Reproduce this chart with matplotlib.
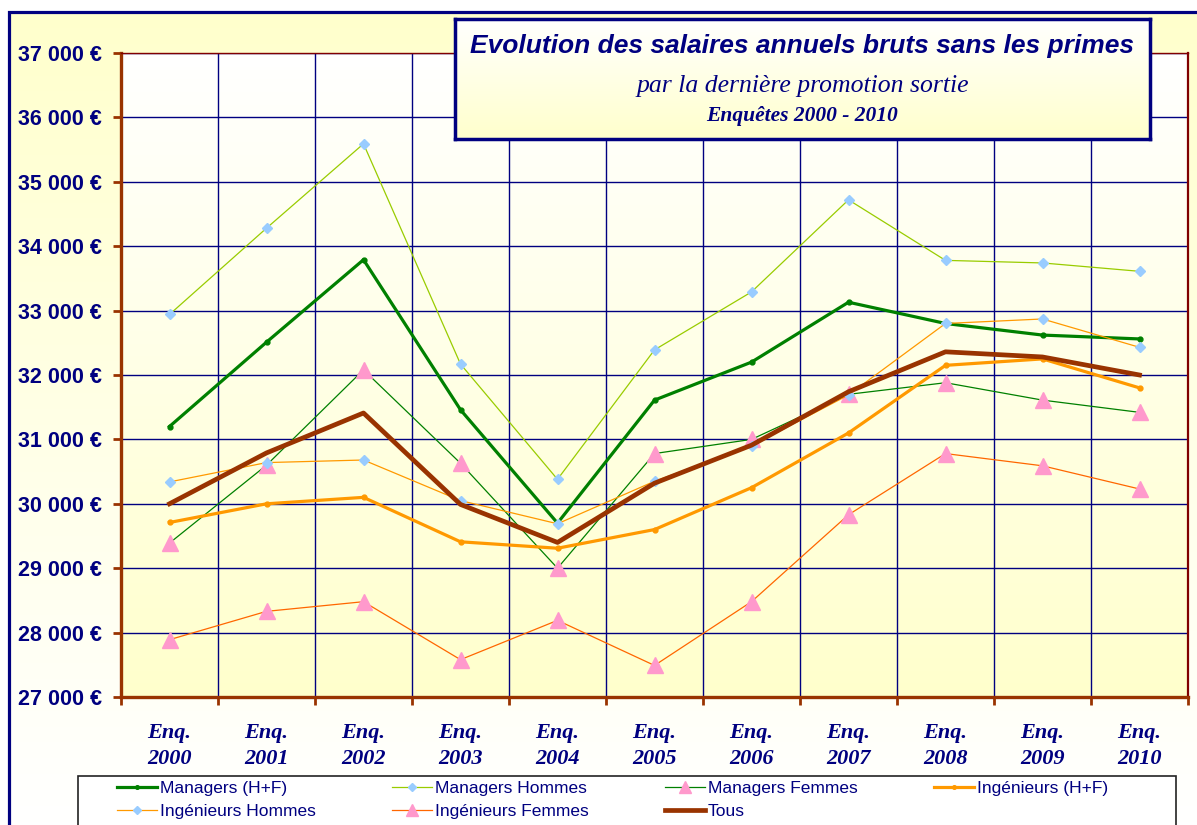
import numpy as np
import matplotlib
matplotlib.use("Agg")
import matplotlib.pyplot as plt
from matplotlib.patches import Rectangle
from matplotlib.colors import LinearSegmentedColormap

# survey years
years = ["2000", "2001", "2002", "2003", "2004", "2005",
         "2006", "2007", "2008", "2009", "2010"]

# salaries (EUR)
managers_hf = [31200, 32510, 33790, 31460, 29700, 31610, 32200, 33130, 32800, 32620, 32560]
managers_h = [32940, 34280, 35590, 32170, 30380, 32390, 33290, 34720, 33780, 33740, 33610]
managers_f = [29390, 30600, 32080, 30630, 29000, 30780, 31000, 31700, 31880, 31610, 31420]
ingenieurs_hf = [29710, 30000, 30100, 29410, 29310, 29600, 30250, 31100, 32150, 32250, 31800]
ingenieurs_h = [30340, 30640, 30680, 30050, 29690, 30350, 30900, 31690, 32800, 32870, 32430]
ingenieurs_f = [27890, 28330, 28480, 27580, 28190, 27490, 28480, 29830, 30780, 30590, 30230]
tous = [30000, 30790, 31410, 29990, 29400, 30320, 30910, 31740, 32360, 32280, 32000]

NAVY = "#000080"
BROWN = "#993300"
W, H = 1197, 825


def px(x, y, w, h):
    # pixel box (top-left origin) -> figure fraction
    return [x / W, 1 - (y + h) / H, w / W, h / H]


fig = plt.figure(figsize=(W / 100, H / 100), dpi=100)
fig.patch.set_facecolor("white")

grad = np.linspace(0, 1, 256).reshape(-1, 1)
cm_out = LinearSegmentedColormap.from_list("out", ["#FFFFCC", "#FFFFFF"])
cm_in = LinearSegmentedColormap.from_list("in", ["#FFFFFF", "#FFFFCC"])

# background with frame
bg = fig.add_axes([0, 0, 1, 1], zorder=-10)
bg.set_axis_off()
bg.imshow(grad, cmap=cm_out, aspect="auto", extent=[9 / W, 1, 0, 1 - 12 / H])
bg.set_xlim(0, 1)
bg.set_ylim(0, 1)
bg.add_patch(Rectangle((9 / W, -0.1), 1.1, 1 - 12 / H + 0.1, fill=False,
                       ec=NAVY, lw=2.3))
# legend box
bg.add_patch(Rectangle((78 / W, -0.1), (1176 - 78) / W, 1 - 776 / H + 0.1,
                       fc="white", ec="#222222", lw=1.2))

# main plot
ax = fig.add_axes(px(121, 53, 1067, 644))
x = np.arange(len(years))
ax.imshow(grad, cmap=cm_in, aspect="auto", extent=[-0.5, 10.5, 27000, 37000], zorder=0)
ax.set_xlim(-0.5, 10.5)
ax.set_ylim(27000, 37000)

thin = 0.9
l_mhf, = ax.plot(x, managers_hf, color="#008000", lw=2.3, marker="o", ms=3.5, zorder=3)
l_mh, = ax.plot(x, managers_h, color="#99CC00", lw=thin, marker="D", ms=5.5,
                mfc="#99CCFF", mec="#99CCFF", zorder=3)
l_mf, = ax.plot(x, managers_f, color="#008000", lw=thin, marker="^", ms=11,
                mfc="#FF99CC", mec="#FF99CC", zorder=3)
l_ihf, = ax.plot(x, ingenieurs_hf, color="#FF9900", lw=2.3, marker="o", ms=3.5, zorder=3)
l_ih, = ax.plot(x, ingenieurs_h, color="#FF9900", lw=thin, marker="D", ms=5.5,
                mfc="#99CCFF", mec="#99CCFF", zorder=3)
l_if, = ax.plot(x, ingenieurs_f, color="#FF6600", lw=thin, marker="^", ms=11,
                mfc="#FF99CC", mec="#FF99CC", zorder=3)
l_tous, = ax.plot(x, tous, color=BROWN, lw=3.4, zorder=4)

# grid
ax.set_axisbelow(True)
ax.set_yticks(np.arange(27000, 37001, 1000))
ax.set_yticklabels([f"{v // 1000} 000 €" for v in range(27000, 37001, 1000)])
ax.set_xticks(x)
ax.set_xticklabels([f"Enq.\n{y}" for y in years])
ax.set_xticks(np.arange(-0.5, 10.6, 1), minor=True)
ax.yaxis.grid(True, color=NAVY, lw=1.0)
ax.xaxis.grid(True, which="minor", color=NAVY, lw=1.0)

for lab in ax.get_yticklabels():
    lab.set_fontfamily("Liberation Sans")
    lab.set_fontweight("bold")
    lab.set_fontsize(15.5)
    lab.set_color(NAVY)
for lab in ax.get_xticklabels():
    lab.set_fontfamily("Liberation Serif")
    lab.set_fontweight("bold")
    lab.set_fontstyle("italic")
    lab.set_fontsize(16)
    lab.set_color(NAVY)
    lab.set_linespacing(1.4)

ax.tick_params(axis="y", length=6, width=2, color=BROWN, pad=8)
ax.tick_params(axis="x", which="major", length=0, pad=19)
ax.tick_params(axis="x", which="minor", length=6, width=2, color=BROWN)

ax.spines["left"].set_color(BROWN)
ax.spines["left"].set_linewidth(2.4)
ax.spines["bottom"].set_color(BROWN)
ax.spines["bottom"].set_linewidth(2.4)
ax.spines["top"].set_color("#800000")
ax.spines["top"].set_linewidth(1.0)
ax.spines["right"].set_color("#800000")
ax.spines["right"].set_linewidth(1.6)

# title box
tb = fig.add_axes(px(455, 19, 695, 120), zorder=5)
tb.imshow(grad, cmap=cm_in, aspect="auto", extent=[0, 1, 0, 1])
tb.set_xlim(0, 1)
tb.set_ylim(0, 1)
tb.set_xticks([])
tb.set_yticks([])
for s in tb.spines.values():
    s.set_color(NAVY)
    s.set_linewidth(2.5)
tb.text(0.5, 1 - 27 / 120, "Evolution des salaires annuels bruts sans les primes",
        ha="center", va="center", color=NAVY, fontsize=19, fontweight="bold",
        fontstyle="italic", family="Liberation Sans")
tb.text(0.5, 1 - 67 / 120, "par la dernière promotion sortie",
        ha="center", va="center", color=NAVY, fontsize=18.5, fontstyle="italic",
        family="Liberation Serif")
tb.text(0.5, 1 - 97 / 120, "Enquêtes 2000 - 2010",
        ha="center", va="center", color=NAVY, fontsize=15.5, fontweight="bold",
        fontstyle="italic", family="Liberation Serif")

# legend (column-major order to match the layout)
handles = [l_mhf, l_ih, l_mh, l_if, l_mf, l_tous, l_ihf]
labels = ["Managers (H+F)", "Ingénieurs Hommes", "Managers Hommes", "Ingénieurs Femmes",
          "Managers Femmes", "Tous", "Ingénieurs (H+F)"]
leg = fig.legend(handles, labels, ncol=4, loc="upper left",
                 bbox_to_anchor=(117 / W, 1 - 781 / H), frameon=False,
                 borderpad=0, borderaxespad=0, handlelength=2.3, handletextpad=0.17,
                 columnspacing=4.4, labelspacing=0.44, markerscale=0.75,
                 prop={"family": "Liberation Sans", "size": 12.5}, labelcolor=NAVY)
leg.set_zorder(6)

fig.savefig("out.png", dpi=100)
